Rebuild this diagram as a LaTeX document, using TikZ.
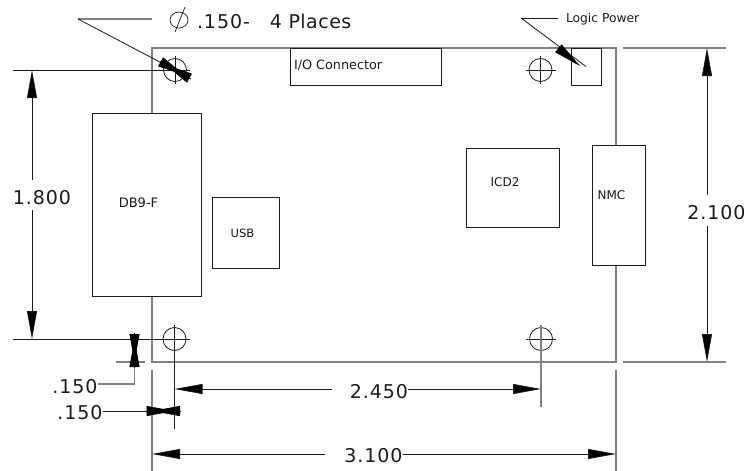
\documentclass[tikz,border=0pt]{standalone}
\usepackage{fontspec}
\setmainfont{DejaVu Sans}
\newfontfamily\dimfont[LetterSpace=5]{DejaVu Sans}
\newfontfamily\placefont[LetterSpace=2.5]{DejaVu Sans}
\usetikzlibrary{arrows.meta}
\definecolor{edgegray}{HTML}{808080}
\definecolor{inkline}{HTML}{1A1A1A}
\tikzset{
  every node/.style={inner sep=0pt,outer sep=0pt},
  part/.style={draw=inkline,line width=0.8pt,fill=white,anchor=north west},
  partlabel/.style={text=inkline,font=\fontsize{#1}{14}\selectfont},
  edge/.style={draw=edgegray,line width=1.1pt},
  ink/.style={draw=inkline,line width=0.8pt},
  dimtext/.style={font=\dimfont\fontsize{19}{22}\selectfont,text=inkline},
  hole/.style={circle,draw=inkline,line width=0.8pt,minimum size=23pt},
  head/.style={-{Triangle[length=28pt,width=10pt,fill=black]},draw=inkline,line width=0.8pt},
  headback/.style={{Triangle[length=28pt,width=10pt,fill=black]}-,draw=black,line width=0.8pt},
}
\begin{document}
\begin{tikzpicture}[x=1pt,y=-1pt]
\useasboundingbox (0,0) rectangle (747,471);
% board corners and gaps
\coordinate (tl) at (152,48);
\coordinate (tr) at (616,48);
\coordinate (bl) at (152,362);
\coordinate (br) at (616,362);
\coordinate (lA) at (152,113);
\coordinate (lB) at (152,296);
\coordinate (rA) at (616,145);
\coordinate (rB) at (616,265);
\draw[edge] (lA) -- (tl) -- (tr) -- (rA);
\draw[edge] (lB) -- (bl) -- (br) -- (rB);
% parts
\node[part,minimum width=109pt,minimum height=183pt] (db9) at (92,113) {};
\node[partlabel=13] (db9t) at (138.5,203) {DB9-F};
\node[part,minimum width=67pt,minimum height=71pt] (usb) at (212,197) {};
\node[partlabel=11.5] (usbt) at (242.5,233) {USB};
\node[part,minimum width=93pt,minimum height=79pt] (icd) at (466,148) {};
\node[partlabel=12] (icdt) at (505,182) {ICD2};
\node[part,minimum width=53pt,minimum height=120pt] (nmc) at (592,145) {};
\node[partlabel=12] (nmct) at (611.5,195) {NMC};
\node[part,minimum width=151pt,minimum height=37pt] (io) at (290,48) {};
\node[partlabel=12.8,anchor=west] (iot) at (294,65) {I/O Connector};
\node[part,minimum width=30pt,minimum height=37pt] (logic) at (571,48) {};
% holes
\node[hole] (h1) at (175,70) {};
\node[hole] (h2) at (540.5,70) {};
\node[hole] (h3) at (174.5,339) {};
\node[hole] (h4) at (541,339) {};
\foreach \h in {h2,h3,h4}{
  \draw[ink] ([xshift=-15pt]\h.center) -- ([xshift=15pt]\h.center);
}
\draw[ink] ([yshift=-14pt]h1.center) -- ([yshift=14pt]h1.center);
\draw[ink] ([xshift=-12pt]h1.center) -- ([xshift=15pt]h1.center);
\draw[ink] ([yshift=-14pt]h2.center) -- ([yshift=14pt]h2.center);
% extension lines
\coordinate (e1a) at (13,70);
\draw[ink] (e1a) -- (h1.center);
\coordinate (e2a) at (13,339);
\draw[ink] (e2a) -- (h3.center);
\coordinate (e3a) at (623,48); \coordinate (e3b) at (726,48);
\draw[edge] (e3a) -- (e3b);
\coordinate (e4a) at (623,362); \coordinate (e4b) at (726,362);
\draw[edge] (e4a) -- (e4b);
\coordinate (e5a) at (116,362); \coordinate (e5b) at (145,362);
\draw[edge] (e5a) -- (e5b);
\coordinate (e6a) at (174.5,325); \coordinate (e6b) at (174.5,429);
\draw[ink] (e6a) -- (e6b);
\coordinate (e7a) at (541,325); \coordinate (e7b) at (541,407);
\draw[edge] (e7a) -- (e7b);
\coordinate (e8a) at (152,370); \coordinate (e8b) at (152,471);
\draw[edge] (e8a) -- (e8b);
\coordinate (e9a) at (616,370); \coordinate (e9b) at (616,471);
\draw[edge] (e9a) -- (e9b);
% 1.800
\node[dimtext] (d18) at (42,197.5) {1.800};
\draw[head] (32,180) -- (32,70);
\draw[head] (32,210) -- (32,339);
% 2.100
\node[dimtext] (d21) at (716.5,213) {2.100};
\draw[head] (707,195) -- (707,48);
\draw[head] (707,226) -- (707,362);
% 2.450
\node[dimtext] (d245) at (379,392) {2.450};
\coordinate (a245l) at (174.5,389); \coordinate (a245r) at (541,389);
\draw[head] (332,389) -- (a245l);
\draw[head] (d245.east |- a245r) -- (a245r);
% 3.100
\node[dimtext] (d31) at (373.5,456) {3.100};
\coordinate (a31l) at (152,454); \coordinate (a31r) at (616,454);
\draw[head] (325,454) -- (a31l);
\draw[head] (d31.east |- a31r) -- (a31r);
% .150 vertical
\node[dimtext] (s1) at (75,387) {.150};
\coordinate (s1c) at (134.5,384);
\draw[edge] (s1.east |- s1c) -- (s1c) -- (134.5,362);
\draw[headback] (134.5,339) -- (134.5,368);
\draw[headback] (134.5,362) -- (134.5,333);
% .150 horizontal
\node[dimtext] (s2) at (80,413) {.150};
\coordinate (s2c) at (146,411);
\draw[ink] (s2.east |- s2c) -- (s2c);
\draw[headback] (152,411) -- (181,411);
\draw[headback] (174.5,411) -- (146,411);
% diameter callout
\coordinate (c1a) at (78,19); \coordinate (c1b) at (152,19);
\draw[edge] (c1b) -- (c1a);
\draw[ink] (c1a) -- (h1.center);
\draw[headback] (165,64.5) -- (191,79);
\draw[headback] (185,75.5) -- (160,61.5);
\coordinate (dia) at (179,20);
\draw[inkline,line width=0.7pt] (dia) ellipse [x radius=9,y radius=8];
\draw[inkline,line width=0.7pt] ([shift={(-4,12)}]dia) -- ([shift={(6,-13)}]dia);
\node[font=\dimfont\fontsize{19}{22}\selectfont,text=inkline,anchor=west] (dt) at (197,21) {.150-\hspace{20pt}{\placefont 4 Places}};
% logic power callout
\coordinate (c2a) at (521,18); \coordinate (c2b) at (558,18);
\draw[ink] (c2b) -- (c2a);
\draw[ink] (c2a) -- (logic.center);
\draw[headback] (580,66) -- (558,48);
\node[partlabel=12.3,anchor=west] (lp) at (566,19) {Logic Power};
\end{tikzpicture}
\end{document}
